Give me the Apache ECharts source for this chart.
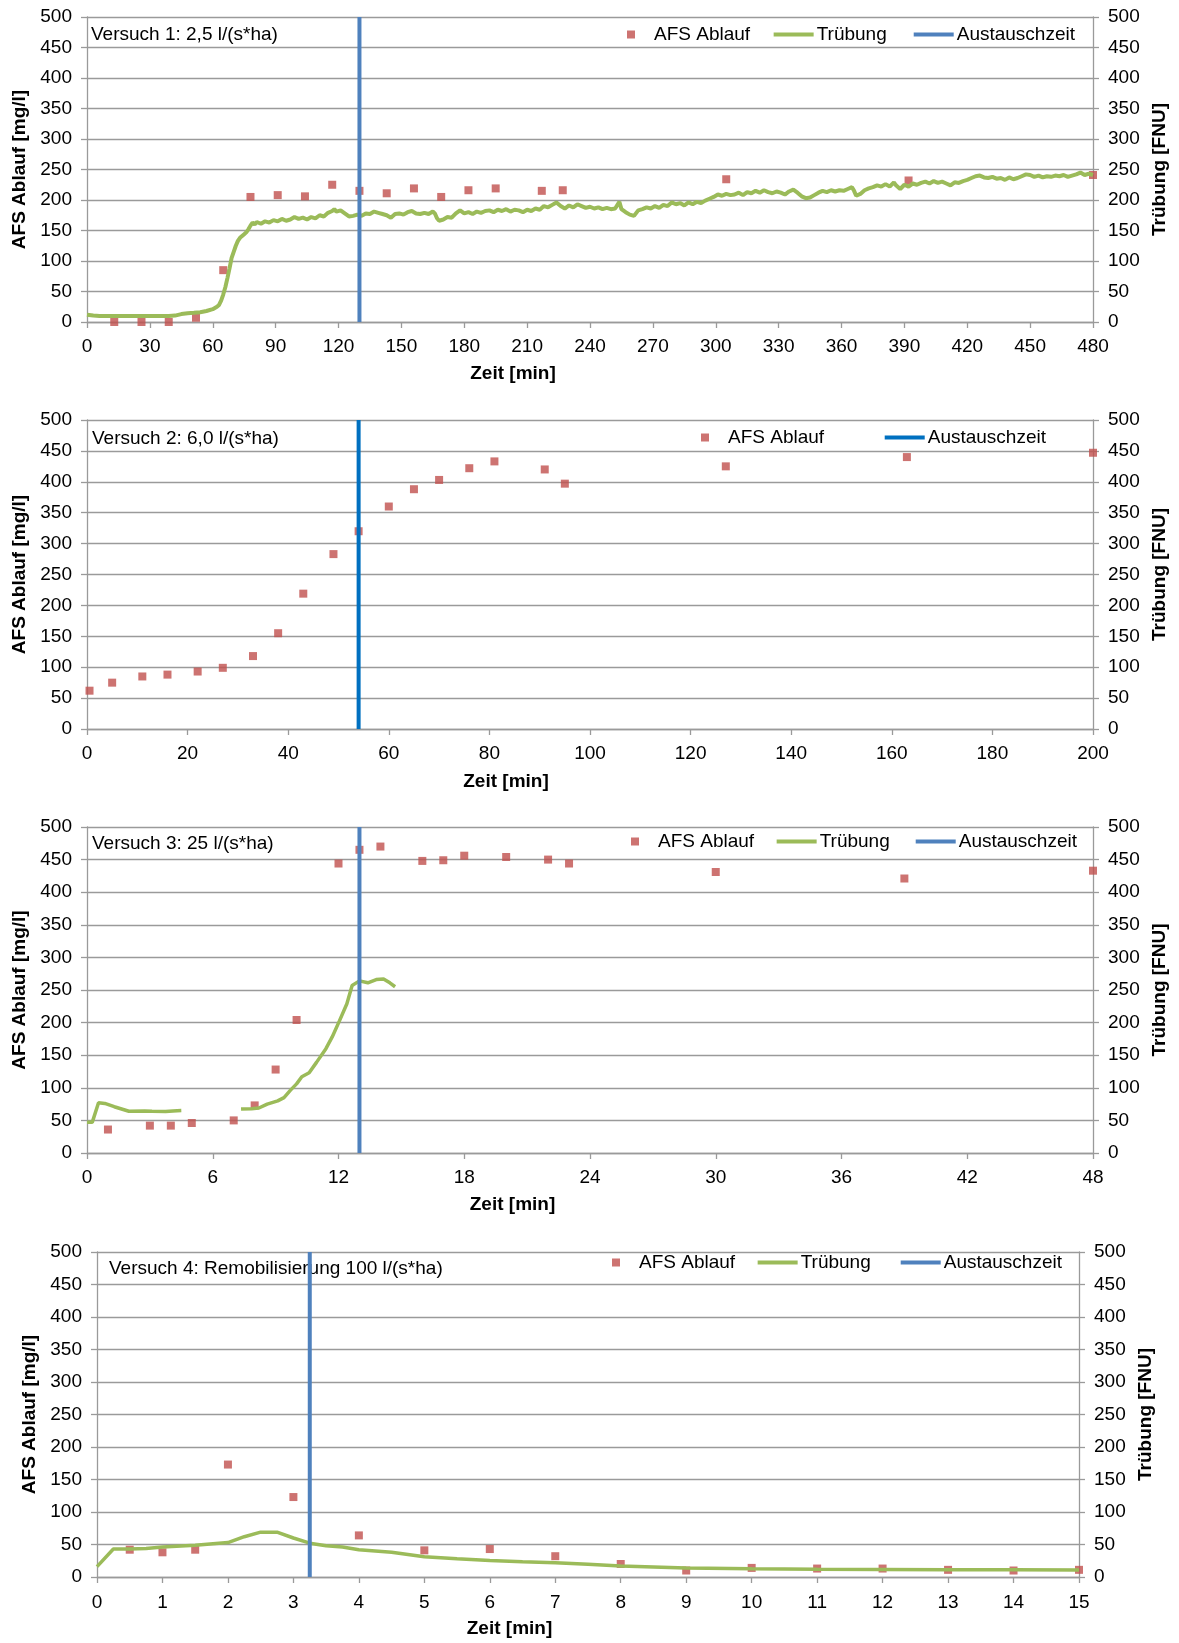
<!DOCTYPE html>
<html><head><meta charset="utf-8">
<script src="https://cdn.jsdelivr.net/npm/echarts@6/dist/echarts.min.js"></script>
<style>
html,body{margin:0;padding:0;background:#fff;width:1179px;height:1643px;overflow:hidden}
.p{position:absolute;left:0;width:1179px}
</style></head>
<body>
<div id="c1" class="p" style="top:0;height:400px"></div>
<div id="c2" class="p" style="top:400px;height:408px"></div>
<div id="c3" class="p" style="top:808px;height:417px"></div>
<div id="c4" class="p" style="top:1225px;height:418px"></div>
<script>
// ---------- data ----------
const yTicksMax = 500, yTicksStep = 50;

// Versuch 1
const afs1 = [[13,0],[26,0],[39,0],[52,7],[65,85],[78,205],[91,208],[104,206],[117,225],[130,215],[143,211],[156,219],[169,205],[182,216],[195,219],[217,215],[227,216],[305,234],[392,232],[480,241]];
const turb1 = [[0,12],[3,10.5],[6,10],[9,10],[12,10],[15,10],[18,10],[21,10],[24,10],[27,10],[30,10],[33,10],[36,10],[39,10],[42,10.5],[45,13],[48,14.5],[51,15],[54,16],[57,18],[60,21],[62,25],[63,28],[64,35],[65,45],[66,57],[67,72],[68,88],[69,105],[70,115],[71,125],[72,133],[73,138],[74,141],[75,144],[76,147],[77,152],[78,158],[79,163],[80,160],[81,164],[83,161],[85,165],[87,163],[89,167],[91,165],[93,169],[95,166],[97,168],[99,172],[101,169],[103,171],[105,168],[107,172],[109,170],[111,175],[113,173],[115,179],[117,182],[118,185],[119,181],[121,183],[123,178],[125,173],[127,174],[129,176],[131,174],[133,178],[135,177],[137,181],[139,179],[141,177],[143,175],[145,171],[147,177],[149,178],[151,176],[153,180],[155,182],[157,178],[159,177],[161,179],[163,177],[165,181],[166,178],[167,170],[168,166],[170,168],[172,172],[174,171],[176,178],[178,183],[180,178],[182,180],[184,177],[186,181],[188,179],[190,182],[192,183],[194,180],[196,184],[198,182],[200,185],[202,181],[204,184],[206,183],[208,180],[210,184],[212,182],[214,186],[216,184],[218,190],[220,188],[222,192],[224,196],[226,190],[228,186],[230,191],[232,188],[234,193],[236,190],[238,187],[240,189],[242,186],[244,188],[246,185],[248,187],[250,185],[252,186],[254,197],[255,185],[257,180],[259,176],[261,174],[263,183],[265,185],[267,188],[269,186],[271,190],[273,187],[275,192],[277,190],[279,196],[281,193],[283,195],[285,191],[287,196],[289,193],[291,197],[293,195],[295,199],[297,202],[299,205],[301,209],[303,207],[305,210],[307,208],[309,209],[311,212],[313,208],[315,213],[317,211],[319,215],[321,212],[323,216],[325,213],[327,211],[329,214],[331,212],[333,209],[335,214],[337,217],[339,212],[341,206],[343,203],[345,204],[347,208],[349,212],[351,215],[353,213],[355,216],[357,214],[359,216],[361,215],[363,218],[365,221],[366,215],[367,207],[369,210],[371,216],[373,219],[375,221],[377,224],[379,222],[381,226],[383,222],[385,229],[386,224],[388,218],[390,225],[392,222],[394,227],[396,225],[398,228],[400,230],[402,227],[404,231],[406,228],[408,230],[410,227],[412,224],[414,229],[416,228],[418,231],[420,233],[422,236],[424,239],[426,240],[428,237],[430,236],[432,238],[434,235],[436,236],[438,233],[440,237],[442,234],[444,236],[446,239],[448,242],[450,241],[452,238],[454,240],[456,237],[458,239],[460,238],[462,240],[464,239],[466,241],[468,238],[470,240],[472,242],[474,245],[476,241],[478,243],[480,241]];
const exchange1 = 130;

// Versuch 2
const afs2 = [[0.5,62],[5,75],[11,85],[16,88],[22,93],[27,99],[33,118],[38,155],[43,219],[49,283],[54,320],[60,360],[65,388],[70,403],[76,422],[81,433],[91,420],[95,397],[127,425],[163,440],[200,447]];
const exchange2 = 54;

// Versuch 3
const afs3 = [[1,36],[3,42],[4,42],[5,46],[7,50],[8,73],[9,128],[10,204],[12,444],[13,465],[14,470],[16,448],[17,449],[18,456],[20,454],[22,450],[23,444],[30,431],[39,421],[48,433]];
const turb3 = [[0,47],[0.25,47],[0.55,77],[0.85,76],[1.3,71],[2.0,64],[2.75,64.5],[3.1,64],[3.75,63.5],[4.1,64.5],[4.5,65],[6,'-'],[7.35,67.5],[7.85,68],[8.2,69],[8.6,75],[9.1,80],[9.4,85],[9.7,96],[10.0,106],[10.25,117],[10.6,123],[10.95,139],[11.4,160],[11.7,178],[12.05,203],[12.4,229],[12.65,257],[13.0,264],[13.4,261],[13.8,266],[14.15,267],[14.45,261],[14.7,255]];
const exchange3 = 13;

// Versuch 4
const afs4 = [[0.5,42],[1,38],[1.5,42],[2,173],[3,123],[4,64],[5,41],[6,43],[7,32],[8,20],[9,10],[10,14],[11,13],[12,13],[13,11],[14,10],[15,11]];
const turb4 = [[0,16],[0.25,43],[0.5,43],[0.75,44],[1,46],[1.5,49],[2,53],[2.25,62],[2.5,69],[2.75,69],[3,60],[3.25,52],[3.5,48],[3.75,46],[4,42],[4.5,38],[5,31],[5.5,28],[6,25.5],[6.5,23.5],[7,22],[7.5,19.5],[8,17],[9,14],[10,12.6],[11,12],[12,11.6],[13,11],[14,11],[15,10.6]];
const exchange4 = 3.25;

// ---------- styles ----------
const FONT = 'Liberation Sans, Arial, sans-serif';
const GRID = '#9a9a9a';
const RED = '#C0504D', GREEN = '#9BBB59', BLUE = '#4F81BD', BLUE2 = '#0070C0';

function build(c) {
  const series = [{
    name: 'AFS Ablauf', type: 'scatter', data: c.afs, symbol: 'rect', symbolSize: 8,
    itemStyle: { color: RED }, yAxisIndex: 0, z: 3
  }];
  const lineLegend = [];
  if (c.turb) {
    series.push({
      name: 'Trübung', type: 'line', data: c.turb, yAxisIndex: 1, symbol: 'none',
      showSymbol: false, connectNulls: false,
      lineStyle: { color: GREEN, width: c.turbWidth }, itemStyle: { color: GREEN }, z: 4
    });
    lineLegend.push({ name: 'Trübung', icon: 'rect' });
  }
  series.push({
    name: 'Austauschzeit', type: 'line', data: [[c.ex, 0], [c.ex, yTicksMax]], yAxisIndex: 0,
    symbol: 'none', showSymbol: false,
    lineStyle: { color: c.blue, width: 4 }, itemStyle: { color: c.blue }, z: 5
  });
  lineLegend.push({ name: 'Austauschzeit', icon: 'rect' });

  const yBase = {
    type: 'value', min: 0, max: yTicksMax, interval: yTicksStep,
    nameLocation: 'middle', nameRotate: 90, nameGap: 55,
    nameTextStyle: { fontFamily: FONT, fontSize: 19, fontWeight: 'bold', color: '#000' },
    axisLine: { show: true, lineStyle: { color: GRID, width: 1.3 } },
    axisTick: { show: true, length: 6, lineStyle: { color: GRID, width: 1.3 } },
    axisLabel: { fontFamily: FONT, fontSize: 19, color: '#000', margin: 15 }
  };
  const legText = { fontFamily: FONT, fontSize: 19, color: '#000' };

  return {
    animation: false,
    textStyle: { fontFamily: FONT },
    grid: { left: c.left, right: c.right, top: c.top, height: c.height },
    legend: [{
      data: [{ name: 'AFS Ablauf', icon: 'rect' }], left: c.mkLeft, top: c.legTop, padding: 0,
      itemWidth: 8, itemHeight: 8, selectedMode: false,
      textStyle: Object.assign({ padding: [0, 0, 0, 14] }, legText)
    }, {
      data: lineLegend, right: c.legRight, top: c.legTop, padding: 0, itemGap: c.legGap,
      itemWidth: 40, itemHeight: 4, selectedMode: false,
      textStyle: Object.assign({ padding: [0, 0, 0, -2] }, legText)
    }],
    graphic: [{
      type: 'text', left: c.annLeft, top: c.annTop,
      style: { text: c.ann, font: '19px ' + FONT, fill: '#000' }
    }],
    xAxis: {
      type: 'value', min: 0, max: c.xMax, interval: c.xInt,
      name: 'Zeit [min]', nameLocation: 'middle', nameGap: c.xNameGap,
      nameTextStyle: { fontFamily: FONT, fontSize: 19, fontWeight: 'bold', color: '#000', padding: [0, c.xNameShift, 0, 0] },
      axisLine: { show: true, onZero: false, lineStyle: { color: GRID, width: 1.3 } },
      axisTick: { show: true, length: 6, lineStyle: { color: GRID, width: 1.3 } },
      axisLabel: { fontFamily: FONT, fontSize: 19, color: '#000', margin: c.xLabMargin },
      splitLine: { show: false }
    },
    yAxis: [
      Object.assign({}, yBase, {
        name: 'AFS Ablauf [mg/l]', position: 'left',
        splitLine: { show: true, lineStyle: { color: GRID, width: 1.3 } }
      }),
      Object.assign({}, yBase, {
        name: 'Trübung [FNU]', position: 'right',
        splitLine: { show: false }
      })
    ],
    series: series
  };
}

const panels = [
  { id: 'c1', afs: afs1, turb: turb1, turbWidth: 4, ex: exchange1, blue: BLUE, xMax: 480, xInt: 30,
    left: 87, right: 86, top: 17, height: 305, mkLeft: 627, legRight: 104, legTop: 25, legGap: 27,
    ann: 'Versuch 1: 2,5 l/(s*ha)', annLeft: 91, annTop: 25, xNameGap: 42, xNameShift: 154, xLabMargin: 15 },
  { id: 'c2', afs: afs2, turb: null, ex: exchange2, blue: BLUE2, xMax: 200, xInt: 20,
    left: 87, right: 86, top: 20, height: 309, mkLeft: 701, legRight: 133, legTop: 28, legGap: 54,
    ann: 'Versuch 2: 6,0 l/(s*ha)', annLeft: 92, annTop: 29, xNameGap: 43, xNameShift: 168, xLabMargin: 15 },
  { id: 'c3', afs: afs3, turb: turb3, turbWidth: 3.5, ex: exchange3, blue: BLUE, xMax: 48, xInt: 6,
    left: 87, right: 86, top: 19, height: 326, mkLeft: 631, legRight: 102, legTop: 24, legGap: 26,
    ann: 'Versuch 3: 25 l/(s*ha)', annLeft: 92, annTop: 26, xNameGap: 42, xNameShift: 155, xLabMargin: 15 },
  { id: 'c4', afs: afs4, turb: turb4, turbWidth: 3.5, ex: exchange4, blue: BLUE, xMax: 15, xInt: 1,
    left: 97, right: 100, top: 27, height: 330, mkLeft: 612, legRight: 117, legTop: 28, legGap: 30,
    ann: 'Versuch 4: Remobilisierung 100 l/(s*ha)', annLeft: 109, annTop: 34, xNameGap: 42, xNameShift: 157, xLabMargin: 16 }
];

panels.forEach(function (p) {
  const chart = echarts.init(document.getElementById(p.id), null, { renderer: 'canvas' });
  chart.setOption(build(p));
});
</script>
</body></html>
